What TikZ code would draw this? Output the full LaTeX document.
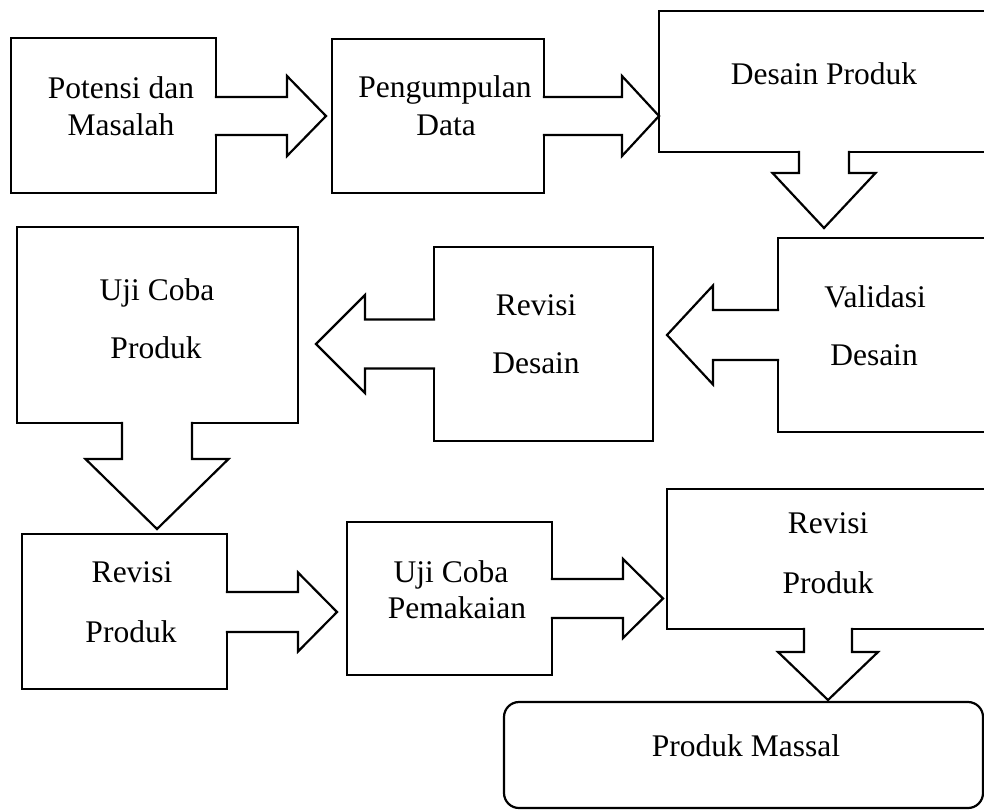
\documentclass[tikz,border=0pt]{standalone}
\usepackage{fontspec}
\setmainfont{Liberation Serif}
\usetikzlibrary{fit,calc}
\tikzset{
  box/.style={draw, line width=1.1pt, fill=white, inner sep=0pt, outer sep=0pt},
  rbox/.style={box, rounded corners=7.5pt},
  txt/.style={inner sep=0pt, anchor=base, font=\fontsize{15.75}{18}\selectfont},
  blk/.style={line width=1.1pt, line cap=rect, line join=miter}
}
% block arrows: #1 start on box edge, #2 tip, #3 stem half-width, #4 head half-width, #5 head length
\newcommand\arrR[5]{%
  \fill[white] ($(#1)+(-3,-#3)$) -- ($(#2)+(-#5,-#3)$) -- ($(#2)+(-#5,-#4)$) -- (#2) -- ($(#2)+(-#5,#4)$) -- ($(#2)+(-#5,#3)$) -- ($(#1)+(-3,#3)$) -- cycle;
  \draw[blk] ($(#1)+(0,-#3)$) -- ($(#2)+(-#5,-#3)$) -- ($(#2)+(-#5,-#4)$) -- (#2) -- ($(#2)+(-#5,#4)$) -- ($(#2)+(-#5,#3)$) -- ($(#1)+(0,#3)$);}
\newcommand\arrL[5]{%
  \fill[white] ($(#1)+(3,-#3)$) -- ($(#2)+(#5,-#3)$) -- ($(#2)+(#5,-#4)$) -- (#2) -- ($(#2)+(#5,#4)$) -- ($(#2)+(#5,#3)$) -- ($(#1)+(3,#3)$) -- cycle;
  \draw[blk] ($(#1)+(0,-#3)$) -- ($(#2)+(#5,-#3)$) -- ($(#2)+(#5,-#4)$) -- (#2) -- ($(#2)+(#5,#4)$) -- ($(#2)+(#5,#3)$) -- ($(#1)+(0,#3)$);}
\newcommand\arrD[5]{%
  \fill[white] ($(#1)+(-#3,-3)$) -- ($(#2)+(-#3,-#5)$) -- ($(#2)+(-#4,-#5)$) -- (#2) -- ($(#2)+(#4,-#5)$) -- ($(#2)+(#3,-#5)$) -- ($(#1)+(#3,-3)$) -- cycle;
  \draw[blk] ($(#1)+(-#3,0)$) -- ($(#2)+(-#3,-#5)$) -- ($(#2)+(-#4,-#5)$) -- (#2) -- ($(#2)+(#4,-#5)$) -- ($(#2)+(#3,-#5)$) -- ($(#1)+(#3,0)$);}
\begin{document}
\begin{tikzpicture}[x=0.5pt, y=-0.5pt]
\useasboundingbox (0,0) rectangle (984,810);
\clip (0,0) rectangle (984,810);
% boxes
\node[box, fit={(11,38) (216,193)}] (b1) {};
\node[box, fit={(332,39) (544,193)}] (b2) {};
\node[box, fit={(659,11) (995,152)}] (b3) {};
\node[box, fit={(778,238) (995,432)}] (b4) {};
\node[box, fit={(434,247) (653,441)}] (b5) {};
\node[box, fit={(17,227) (298,423)}] (b6) {};
\node[box, fit={(22,534) (227,689)}] (b7) {};
\node[box, fit={(347,522) (552,675)}] (b8) {};
\node[box, fit={(667,489) (995,629)}] (b9) {};
\node[rbox, fit={(504,702) (983,808)}] (b10) {};
% arrow tips
\coordinate (t1) at (326,116);
\coordinate (t2) at (659,116);
\coordinate (t3) at (824,228);
\coordinate (t4) at (667,335);
\coordinate (t5) at (316,344);
\coordinate (t6) at (157,529);
\coordinate (t7) at (337,612);
\coordinate (t8) at (663,598.5);
\coordinate (t9) at (828,700);
% arrows
\arrR{b1.east |- t1}{t1}{19}{40}{39}
\arrR{b2.east |- t2}{t2}{19}{40}{37}
\arrD{t3 |- b3.south}{t3}{25}{51.5}{55}
\arrL{b4.west |- t4}{t4}{25}{49.5}{46}
\arrL{b5.west |- t5}{t5}{24.5}{49}{49}
\arrD{t6 |- b6.south}{t6}{35}{71.5}{70}
\arrR{b7.east |- t7}{t7}{20}{39.5}{39}
\arrR{b8.east |- t8}{t8}{19.5}{39.5}{40}
\arrD{t9 |- b9.south}{t9}{24}{50}{48}
% texts
\node[txt] (l1a) at (121,98) {Potensi dan};
\node[txt] (l1b) at (121,135) {Masalah};
\node[txt] (l2a) at (445,97) {Pengumpulan};
\node[txt] (l2b) at (446,135) {Data};
\node[txt] (l3a) at (824,84) {Desain Produk};
\node[txt] (l4a) at (875,307) {Validasi};
\node[txt] (l4b) at (874,365) {Desain};
\node[txt] (l5a) at (536,315) {Revisi};
\node[txt] (l5b) at (536,373) {Desain};
\node[txt] (l6a) at (157,300) {Uji Coba};
\node[txt] (l6b) at (156,358) {Produk};
\node[txt] (l7a) at (132,582) {Revisi};
\node[txt] (l7b) at (131,642) {Produk};
\node[txt] (l8a) at (451,582) {Uji Coba};
\node[txt] (l8b) at (457,618) {Pemakaian};
\node[txt] (l9a) at (828,533) {Revisi};
\node[txt] (l9b) at (828,593) {Produk};
\node[txt] (l10a) at (746,756) {Produk Massal};
\end{tikzpicture}
\end{document}
